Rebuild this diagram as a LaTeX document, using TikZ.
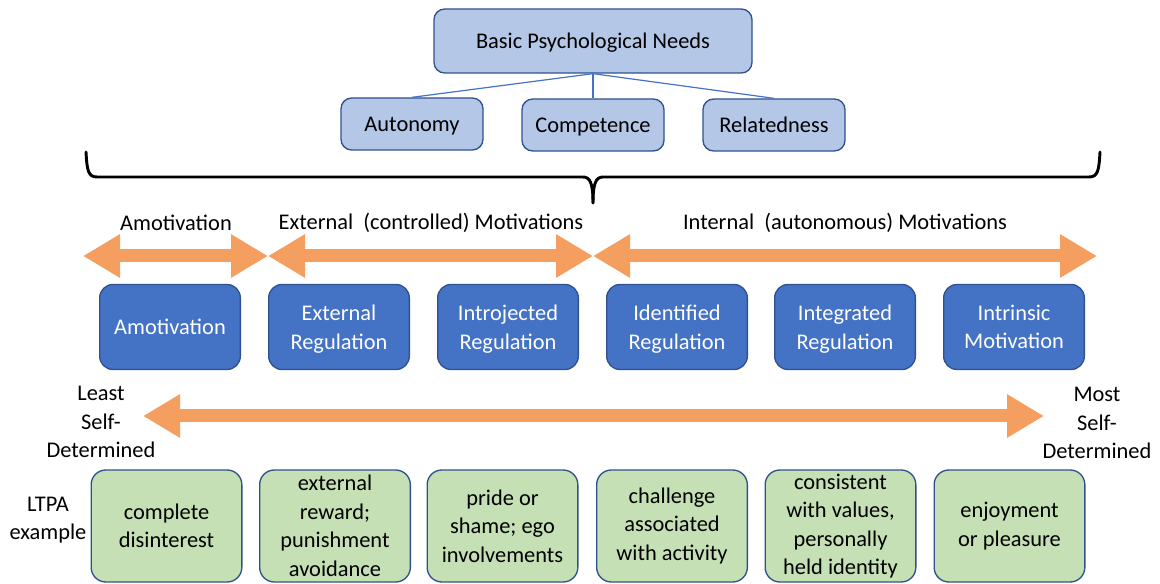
\documentclass[tikz,border=0pt]{standalone}
\usepackage{fontspec}
\setmainfont{Carlito}
\usetikzlibrary{positioning,arrows.meta,calc}

\definecolor{needfill}{HTML}{B4C7E7}
\definecolor{edgeblue}{HTML}{2F528F}
\definecolor{midblue}{HTML}{4472C4}
\definecolor{ltpagreen}{HTML}{C5E0B4}
\definecolor{bandorange}{RGB}{244,158,96}

\newcommand{\txt}{\fontsize{16.8}{21.4}\selectfont}

\begin{document}
\begin{tikzpicture}[x=0.75pt,y=-0.75pt,
  need/.style={draw=edgeblue,fill=needfill,line width=1pt,rounded corners=8pt,
    minimum width=106.5pt,minimum height=39pt,inner sep=0pt,text depth=0pt,font=\txt},
  reg/.style={draw=edgeblue,fill=midblue,text=white,line width=1pt,rounded corners=10pt,
    minimum width=105.5pt,minimum height=63.75pt,inner sep=0pt,text depth=0pt,
    align=center,font=\txt},
  ltpa/.style={draw=edgeblue,fill=ltpagreen,line width=1pt,rounded corners=11pt,
    minimum width=113pt,minimum height=84pt,inner sep=0pt,align=center,font=\txt},
  lbl/.style={align=center,inner sep=0pt,font=\txt},
  band/.style={bandorange,line width=9.75pt,
    {Triangle[length=27.75pt,width=30.75pt]}-{Triangle[length=27.75pt,width=30.75pt]}},
  link/.style={midblue,line width=0.9pt},
  brace/.style={black,line width=2.2pt,line cap=round,line join=round}
]
\useasboundingbox (0,0) rectangle (1160,584);

% needs
\node[need,minimum width=238.5pt,minimum height=48pt] (bpn) at (593,41) {Basic Psychological Needs};
\node[need] (aut) at (412,124) {Autonomy};
\node[need] (com) at (593,125) {Competence};
\node[need] (rel) at (774,125) {Relatedness};
\draw[link] (bpn.south) -- (aut.north);
\draw[link] (bpn.south) -- (com.north);
\draw[link] (bpn.south) -- (rel.north);

% brace under the needs
\coordinate (bl) at (86,152);
\coordinate (br) at (1100,152);
\coordinate (bt) at (593,203);
\draw[brace] (bl) .. controls (87,170) and (88,177) .. (97,177) -- (583,177)
  .. controls (590,177) and (593,183) .. (bt);
\draw[brace] (br) .. controls (1099,170) and (1098,177) .. (1089,177) -- (603,177)
  .. controls (596,177) and (593,183) .. (bt);

% motivation groups
\node[lbl] (amo) at (176,223) {Amotivation};
\node[lbl] (ext) at (431,223) {External\ \ (controlled) Motivations};
\node[lbl] (int) at (845,223) {Internal\ \ (autonomous) Motivations};
\coordinate (a0) at (83,256);
\coordinate (a1) at (268,256);
\coordinate (a2) at (593,256);
\coordinate (a3) at (1097,256);
\draw[band] (a0) -- (a1);
\draw[band] (a1) -- (a2);
\draw[band] (a2) -- (a3);

% regulation types
\node[reg] (r1) at (170,327) {Amotivation};
\node[reg] (r2) at (339,327) {External\\Regulation};
\node[reg] (r3) at (508,327) {Introjected\\Regulation};
\node[reg] (r4) at (677,327) {Identified\\Regulation};
\node[reg] (r5) at (845,327) {Integrated\\Regulation};
\node[reg] (r6) at (1014,327) {Intrinsic\\Motivation};

% continuum
\node[lbl] (least) at (101,422) {Least\\Self-\\Determined};
\node[lbl] (most) at (1097,423) {Most\\Self-\\Determined};
\coordinate (c0) at (143,416);
\coordinate (c1) at (1044,416);
\draw[band] (c0) -- (c1);

% examples
\node[lbl] (ex) at (48,520) {LTPA\\example};
\node[ltpa] (e1) at (166.5,526) {complete\\disinterest};
\node[ltpa] (e2) at (335,526) {external\\reward;\\punishment\\avoidance};
\node[ltpa] (e3) at (502.5,526) {pride or\\shame; ego\\involvements};
\node[ltpa] (e4) at (672,526) {challenge\\associated\\with activity};
\node[ltpa] (e5) at (840.5,526) {consistent\\with values,\\personally\\held identity};
\node[ltpa] (e6) at (1009.5,526) {enjoyment\\or pleasure};
\end{tikzpicture}
\end{document}
